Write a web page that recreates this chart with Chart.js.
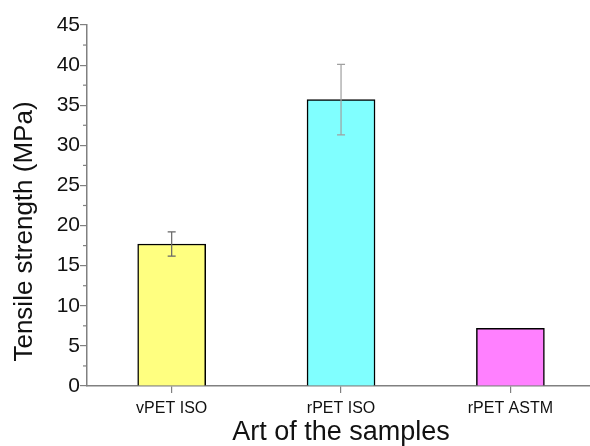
<!DOCTYPE html>
<html>
<head>
<meta charset="utf-8">
<script src="https://cdn.jsdelivr.net/npm/chart.js@4/dist/chart.umd.min.js"></script>
<style>
    html, body { margin: 0; padding: 0; background: #ffffff; }
    #chartDiv { width: 590px; height: 446px; }
</style>
</head>
<body>
<div id="chartDiv"><canvas id="chartTensile"></canvas></div>
<script>
// data
const categories = ['vPET ISO', 'rPET ISO', 'rPET ASTM'];
const strength = [17.7, 35.7, 7.2];
const strengthErr = [1.5, 4.4, 0];
const barColors = ['#ffff80', '#80ffff', '#ff80ff'];
const yMin = 0;
const yMax = 45;
const yStep = 5;
const xTitle = 'Art of the samples';
const yTitle = 'Tensile strength (MPa)';

const fontName = '"Liberation Sans", Arial, sans-serif';

// error bars + minor ticks + axis titles
const extrasPlugin = {
    id: 'extras',
    afterDatasetsDraw(chart) {
        const ctx = chart.ctx;
        const xs = chart.scales.x;
        const ys = chart.scales.y;
        ctx.save();
        ctx.lineWidth = 1.2;
        strength.forEach((v, i) => {
            const e = strengthErr[i];
            if (!e) return;
            const x = xs.getPixelForValue(i);
            const yTop = ys.getPixelForValue(v + e);
            const yBot = ys.getPixelForValue(v - e);
            ctx.strokeStyle = i === 0 ? '#666666' : '#a0a0a0';
            ctx.beginPath();
            ctx.moveTo(x, yTop);
            ctx.lineTo(x, yBot);
            ctx.moveTo(x - 4, yTop);
            ctx.lineTo(x + 4, yTop);
            ctx.moveTo(x - 4, yBot);
            ctx.lineTo(x + 4, yBot);
            ctx.stroke();
        });
        ctx.restore();
    },
    afterDraw(chart) {
        const ctx = chart.ctx;
        const xs = chart.scales.x;
        const ys = chart.scales.y;
        const area = chart.chartArea;
        ctx.save();
        // minor ticks on y
        ctx.strokeStyle = '#808080';
        ctx.lineWidth = 1.2;
        for (let v = yMin + yStep / 2; v < yMax; v += yStep) {
            const y = ys.getPixelForValue(v);
            ctx.beginPath();
            ctx.moveTo(area.left - 4, y);
            ctx.lineTo(area.left, y);
            ctx.stroke();
        }
        ctx.fillStyle = '#111111';
        ctx.textAlign = 'center';
        ctx.textBaseline = 'alphabetic';
        ctx.font = '27px ' + fontName;
        ctx.fillText(xTitle, xs.getPixelForValue(1), 440);
        ctx.translate(32, (area.top + area.bottom) / 2 + 26);
        ctx.rotate(-Math.PI / 2);
        ctx.font = '26px ' + fontName;
        ctx.fillText(yTitle, 0, 0);
        ctx.restore();
    }
};

function ChartTensile() {
    var ctx = document.getElementById('chartTensile');

    const chartTensile = new Chart(ctx, {
        type: 'bar',
        data: {
            datasets: [{
                data: strength.map((v, i) => ({ x: i, y: v })),
                backgroundColor: barColors,
                borderColor: '#000000',
                borderWidth: 1.5,
                borderSkipped: 'bottom',
                barThickness: 68
            }]
        },
        options: {
            responsive: true,
            maintainAspectRatio: false,
            animation: false,
            layout: { padding: { top: 25, right: 0, left: 0, bottom: 0 } },
            plugins: {
                legend: { display: false },
                tooltip: { enabled: false }
            },
            scales: {
                x: {
                    type: 'linear',
                    offset: false,
                    min: -0.5,
                    max: 2.47,
                    afterBuildTicks: (s) => {
                        s.ticks = categories.map((c, i) => ({ value: i }));
                    },
                    afterFit: (s) => { s.height = 60; },
                    ticks: {
                        callback: (v) => categories[v],
                        font: { family: fontName, size: 16 },
                        color: '#111111',
                        padding: 6,
                        maxRotation: 0,
                        autoSkip: false
                    },
                    grid: {
                        offset: false,
                        drawOnChartArea: false,
                        drawTicks: true,
                        tickLength: 7,
                        color: '#808080',
                        lineWidth: 1.2
                    },
                    border: { display: true, color: '#808080', width: 1.5 }
                },
                y: {
                    min: yMin,
                    max: yMax,
                    afterFit: (s) => { s.width = 87; },
                    ticks: {
                        stepSize: yStep,
                        font: { family: fontName, size: 21 },
                        color: '#111111',
                        padding: 0
                    },
                    grid: {
                        drawOnChartArea: false,
                        drawTicks: true,
                        tickLength: 7,
                        color: '#808080',
                        lineWidth: 1.2
                    },
                    border: { display: true, color: '#808080', width: 1.5 }
                }
            }
        },
        plugins: [extrasPlugin]
    });
}

ChartTensile();
</script>
</body>
</html>
